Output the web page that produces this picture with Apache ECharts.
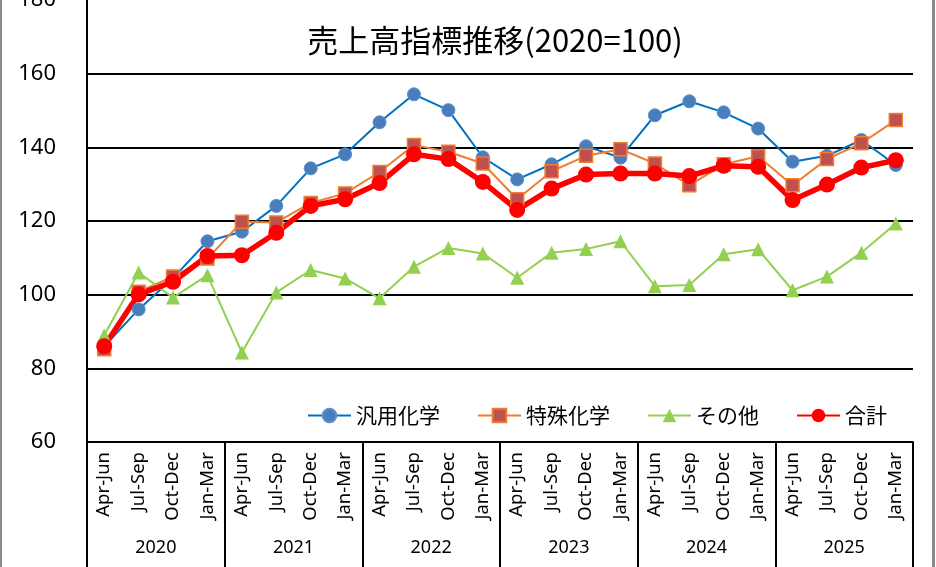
<!DOCTYPE html>
<html>
<head>
<meta charset="utf-8">
<script src="https://cdn.jsdelivr.net/npm/echarts@6/dist/echarts.min.js"></script>
<style>
  html, body { margin: 0; padding: 0; background: #fff; }
  #chart { width: 936px; height: 567px; }
</style>
</head>
<body>
<div id="chart"></div>
<script>
const years = ['2020', '2021', '2022', '2023', '2024', '2025']
const quarters = ['Apr-Jun', 'Jul-Sep', 'Oct-Dec', 'Jan-Mar']
const categories = years.flatMap(() => quarters)

const general = [86.0, 96.0, 104.5, 114.5, 117.1, 124.1, 134.3, 138.1, 146.8, 154.4, 150.1, 137.3,
    131.3, 135.4, 140.3, 137.2, 148.7, 152.5, 149.5, 145.1, 136.1, 137.7, 142.0, 135.2]
const special = [85.2, 100.8, 104.9, 109.8, 119.8, 119.6, 124.9, 127.5, 133.3, 140.6, 138.8, 135.6,
    125.9, 133.5, 137.7, 139.5, 135.6, 129.7, 135.4, 137.6, 129.7, 136.8, 141.1, 147.4]
const other = [89.0, 106.0, 99.2, 105.3, 84.3, 100.6, 106.7, 104.4, 99.0, 107.6, 112.7, 111.2,
    104.6, 111.4, 112.4, 114.5, 102.3, 102.6, 111.0, 112.3, 101.2, 104.9, 111.4, 119.3]
const total = [86.0, 100.1, 103.5, 110.5, 110.7, 116.8, 124.1, 125.9, 130.3, 138.1, 136.8, 130.6,
    123.0, 128.8, 132.6, 132.9, 132.9, 132.2, 135.0, 134.7, 125.7, 129.9, 134.5, 136.5]

const JP = '"Noto Sans CJK JP", "Noto Sans", sans-serif'

const chart = echarts.init(document.getElementById('chart'))

chart.setOption({
    animation: false,
    backgroundColor: '#fff',
    textStyle: { fontFamily: JP, color: '#000' },
    grid: { left: 87, right: 23, top: 0, bottom: 125, containLabel: false, outerBoundsMode: 'none' },
    graphic: [
        {
            type: 'text', x: 495, y: 40, z: 10,
            style: { text: '売上高指標推移(2020=100)', fontSize: 31, fontFamily: JP, fill: '#000', align: 'center', verticalAlign: 'middle' }
        },
        { type: 'rect', shape: { x: 0, y: 0, width: 2, height: 567 }, style: { fill: '#8c8c8c' } },
        { type: 'rect', shape: { x: 932, y: 0, width: 3, height: 567 }, style: { fill: '#8c8c8c' } }
    ],
    legend: {
        left: 302,
        top: 400,
        itemWidth: 43,
        itemHeight: 17,
        itemGap: 37,
        textStyle: { fontSize: 21, fontFamily: JP, color: '#000' },
        data: ['汎用化学', '特殊化学', 'その他', '合計']
    },
    xAxis: [
        {
            type: 'category',
            data: categories,
            position: 'bottom',
            axisLine: { lineStyle: { color: '#000', width: 2 } },
            axisTick: { show: false },
            axisLabel: { rotate: 90, margin: 10, fontSize: 18.5, color: '#000', fontFamily: '"Noto Sans", sans-serif', interval: 0 },
            splitLine: { show: false }
        },
        {
            type: 'category',
            data: years,
            position: 'bottom',
            axisLine: { show: false },
            axisTick: { show: true, length: 125, lineStyle: { color: '#000', width: 2 } },
            axisLabel: { margin: 97, fontSize: 18, color: '#000', fontFamily: '"Noto Sans", sans-serif', interval: 0 },
            splitLine: { show: false }
        }
    ],
    yAxis: {
        type: 'value',
        min: 60,
        max: 180,
        interval: 20,
        axisLine: { show: true, lineStyle: { color: '#000', width: 2 } },
        axisTick: { show: false },
        axisLabel: { margin: 31, fontSize: 22, color: '#000', fontFamily: '"Noto Sans", sans-serif' },
        splitLine: { show: true, showMaxLine: false, lineStyle: { color: '#000', width: 2 } }
    },
    series: [
        {
            name: '汎用化学', type: 'line', data: general,
            symbol: 'circle', symbolSize: 13,
            lineStyle: { color: '#0070C0', width: 2 },
            itemStyle: { color: '#4A7EBB', borderColor: '#5B8FD0', borderWidth: 1 }
        },
        {
            name: '特殊化学', type: 'line', data: special,
            symbol: 'rect', symbolSize: 13,
            lineStyle: { color: '#ED7D31', width: 2 },
            itemStyle: { color: '#C0504D', borderColor: '#ED7D31', borderWidth: 1.5 }
        },
        {
            name: 'その他', type: 'line', data: other,
            symbol: 'triangle', symbolSize: 14,
            lineStyle: { color: '#92D050', width: 2 },
            itemStyle: { color: '#92D050' }
        },
        {
            name: '合計', type: 'line', data: total,
            symbol: 'circle', symbolSize: 16,
            lineStyle: { color: '#FF0000', width: 5.5 },
            itemStyle: { color: '#FF0000' }
        }
    ]
})
</script>
</body>
</html>
